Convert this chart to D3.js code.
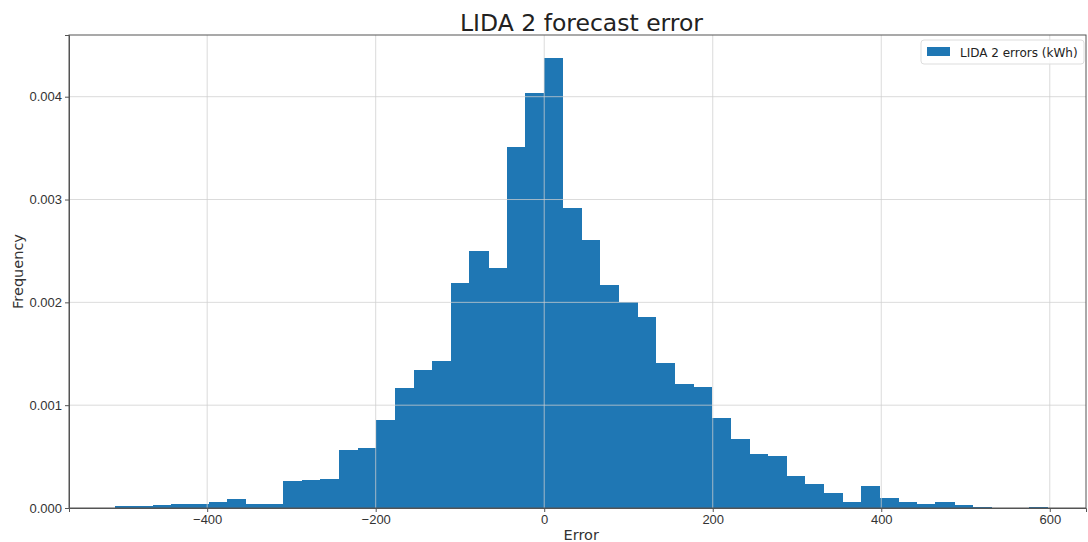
<!doctype html>
<html>
  <head>
    <title>LIDA 2 forecast error</title>
    <style>
      body { margin: 0; background: #fff; }
      svg { font-family: "DejaVu Sans", sans-serif; }
      .grid line { stroke: #cfcfcf; stroke-width: 1px; stroke-opacity: 0.75; }
      .axis text { fill: #333; font-size: 13px; }
      .axis path, .axis line { stroke: #555; }
      .bar { fill: #1f77b4; shape-rendering: crispEdges; }
    </style>
    <script src="https://cdn.jsdelivr.net/npm/d3@7"></script>
  </head>
  <body>
  </body>
  <script>
    // histogram: 50 bins starting at binStart, each binWidth wide
    var binStart = -509,
        binWidth = 22.12;

    // density per bin
    var density = [
      0.000015, 0.000015, 0.00003, 0.00004, 0.00004,
      0.00006, 0.00009, 0.00004, 0.00004, 0.00026,
      0.00027, 0.00028, 0.00056, 0.00058, 0.00086,
      0.00117, 0.00134, 0.00143, 0.00219, 0.00250,
      0.00233, 0.00351, 0.00404, 0.00438, 0.00292,
      0.00261, 0.00217, 0.00200, 0.00186, 0.00141,
      0.00121, 0.00118, 0.00088, 0.00067, 0.00053,
      0.00051, 0.00031, 0.00023, 0.00015, 0.000055,
      0.00021, 0.000094, 0.00006, 0.00004, 0.00006,
      0.000026, 0.000013, 0, 0, 0.000013
    ];

    var xTicks = [-400, -200, 0, 200, 400, 600],
        yTicks = [0, 0.001, 0.002, 0.003, 0.004];

    var title = "LIDA 2 forecast error",
        xLabel = "Error",
        yLabel = "Frequency",
        seriesName = "LIDA 2 errors (kWh)";

    var W = 1088, H = 542;
    var margin = {top: 35, right: 2, bottom: 34, left: 69},
        width = W - margin.left - margin.right,
        height = H - margin.top - margin.bottom;

    var svg = d3.select("body").append("svg")
          .attr("width", W)
          .attr("height", H),
        g = svg.append("g")
          .attr("transform", "translate(" + margin.left + "," + margin.top + ")");

    var x = d3.scaleLinear().domain([-564, 643]).range([0, width]);
    var y = d3.scaleLinear().domain([0, 0.0046]).range([height, 0]);

    // bars
    var bins = density.map(function(d, i) {
      return {x0: binStart + i * binWidth, x1: binStart + (i + 1) * binWidth, v: d};
    });
    g.selectAll(".bar")
        .data(bins)
      .enter().append("rect")
        .attr("class", "bar")
        .attr("x", d => x(d.x0))
        .attr("width", d => x(d.x1) - x(d.x0) + 0.5)
        .attr("y", d => y(d.v))
        .attr("height", d => height - y(d.v));

    // grid lines, drawn over the bars like the original
    g.append("g").attr("class", "grid")
      .selectAll("line").data(xTicks).enter().append("line")
        .attr("x1", d => x(d)).attr("x2", d => x(d))
        .attr("y1", 0).attr("y2", height);
    g.append("g").attr("class", "grid")
      .selectAll("line").data(yTicks.slice(1)).enter().append("line")
        .attr("y1", d => y(d)).attr("y2", d => y(d))
        .attr("x1", 0).attr("x2", width);

    // axes
    g.append("g").attr("class", "axis")
      .attr("transform", "translate(0," + height + ")")
      .call(d3.axisBottom(x).tickValues(xTicks).tickSizeOuter(0).tickSize(4)
        .tickFormat(d => d < 0 ? "\u2212" + Math.abs(d) : d));
    g.append("g").attr("class", "axis")
      .call(d3.axisLeft(y).tickValues(yTicks).tickSizeOuter(0).tickSize(4)
        .tickFormat(d3.format(".3f")));

    // frame
    g.append("rect")
      .attr("width", width).attr("height", height)
      .attr("fill", "none").attr("stroke", "#555").attr("stroke-width", 1);

    // title and labels
    svg.append("text")
      .attr("x", margin.left + width / 2 + 4).attr("y", 31)
      .attr("text-anchor", "middle")
      .style("font-size", "23.5px").style("fill", "#222")
      .text(title);
    svg.append("text")
      .attr("x", margin.left + x(0) + 37).attr("y", 540)
      .attr("text-anchor", "middle")
      .style("font-size", "14.5px").style("fill", "#333")
      .text(xLabel);
    svg.append("text")
      .attr("transform", "translate(23," + (margin.top + height / 2) + ") rotate(-90)")
      .attr("text-anchor", "middle")
      .style("font-size", "14.5px").style("fill", "#333")
      .text(yLabel);

    // legend
    var lg = svg.append("g").attr("transform", "translate(921,40)");
    lg.append("rect")
      .attr("width", 163).attr("height", 24).attr("rx", 3)
      .attr("fill", "#fff").attr("fill-opacity", 0.85)
      .attr("stroke", "#ddd");
    lg.append("rect")
      .attr("x", 6).attr("y", 7).attr("width", 23).attr("height", 9)
      .attr("class", "bar");
    lg.append("text")
      .attr("x", 39).attr("y", 16.5)
      .style("font-size", "12px").style("fill", "#222")
      .text(seriesName);
  </script>
</html>
